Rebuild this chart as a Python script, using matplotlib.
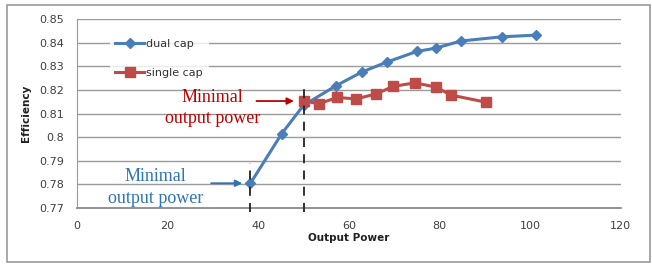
import numpy as np
import matplotlib.pyplot as plt
from matplotlib.patches import Rectangle

# dual cap / single cap efficiency vs output power
dual_x = [38.3, 45.2, 50.0, 57.2, 62.9, 68.4, 75.0, 79.2, 84.7, 93.8, 101.3]
dual_y = [0.7805, 0.8015, 0.8135, 0.8218, 0.8276, 0.8318, 0.8363, 0.8377, 0.8407, 0.8425, 0.8432]
single_x = [50.1, 53.4, 57.5, 61.6, 66.0, 69.8, 74.6, 79.2, 82.6, 90.3]
single_y = [0.8153, 0.8142, 0.8168, 0.8162, 0.8183, 0.8215, 0.8230, 0.8212, 0.8178, 0.8148]

min_dual = (38.3, 0.7805)
min_single = (50.1, 0.8153)

xticks = [0, 20, 40, 60, 80, 100, 120]
yticks = [0.77, 0.78, 0.79, 0.8, 0.81, 0.82, 0.83, 0.84, 0.85]
ytick_labels = ['0.77', '0.78', '0.79', '0.8', '0.81', '0.82', '0.83', '0.84', '0.85']

blue = '#4a7ebb'
red = '#be4b48'

fig = plt.figure(figsize=(6.52, 2.65), dpi=100)
fig.patches.append(Rectangle((0.011, 0.011), 0.986, 0.97, transform=fig.transFigure,
                             fill=False, edgecolor='#9a9a9a', lw=1.2))
ax = fig.add_axes([0.118, 0.215, 0.834, 0.713])

for y in yticks[1:]:
    ax.axhline(y, color='#9a9a9a', lw=1.0, zorder=0)

ax.plot(dual_x, dual_y, color=blue, lw=2.2, marker='D', ms=5.5, label='dual cap', zorder=3)
ax.plot(single_x, single_y, color=red, lw=2.2, marker='s', ms=7.5, label='single cap', zorder=4)

ax.plot([min_dual[0], min_dual[0]], [0.7685, 0.789], color='#222222', lw=1.3,
        ls=(0, (5, 4)), zorder=5, clip_on=False)
ax.plot([min_single[0], min_single[0]], [0.7685, 0.8205], color='#222222', lw=1.3,
        ls=(0, (5, 4)), zorder=5, clip_on=False)

ax.annotate('', xy=(min_dual[0] - 1.2, min_dual[1]), xytext=(29.0, min_dual[1]),
            arrowprops=dict(arrowstyle='-|>', color='#2e75b6', lw=1.3, mutation_scale=10))
ax.text(17.3, 0.7833, 'Minimal', family='Liberation Serif', fontsize=13,
        color='#2e75b6', ha='center', va='center')
ax.text(17.3, 0.7740, 'output power', family='Liberation Serif', fontsize=13,
        color='#2e75b6', ha='center', va='center')

ax.annotate('', xy=(min_single[0] - 1.6, min_single[1]), xytext=(39.0, min_single[1]),
            arrowprops=dict(arrowstyle='-|>', color='#c00000', lw=1.3, mutation_scale=10))
ax.text(30.0, 0.8166, 'Minimal', family='Liberation Serif', fontsize=13,
        color='#c00000', ha='center', va='center')
ax.text(30.0, 0.8077, 'output power', family='Liberation Serif', fontsize=13,
        color='#c00000', ha='center', va='center')

ax.set_xlim(0, 120)
ax.set_ylim(0.77, 0.85)
ax.set_xticks(xticks)
ax.set_yticks(yticks)
ax.set_yticklabels(ytick_labels)
ax.tick_params(length=0, labelsize=8, labelcolor='#404040', pad=9)
for s in ['top', 'right']:
    ax.spines[s].set_visible(False)
ax.spines['left'].set_color('#9a9a9a')
ax.spines['bottom'].set_color('#8a8a8a')
ax.spines['bottom'].set_linewidth(1.3)

ax.set_xlabel('Output Power', fontsize=7.5, fontweight='bold', color='#202020', labelpad=2)
ax.set_ylabel('Efficiency', fontsize=7.5, fontweight='bold', color='#202020', labelpad=6)

leg = ax.legend(loc='upper left', bbox_to_anchor=(0.05, 0.955), frameon=True, fontsize=8,
                handlelength=2.6, labelspacing=1.75, borderpad=0.5, handletextpad=0.2,
                fancybox=False)
leg.get_frame().set_facecolor('white')
leg.get_frame().set_edgecolor('none')
for t in leg.get_texts():
    t.set_color('#303030')

fig.savefig('out.png', dpi=100)
